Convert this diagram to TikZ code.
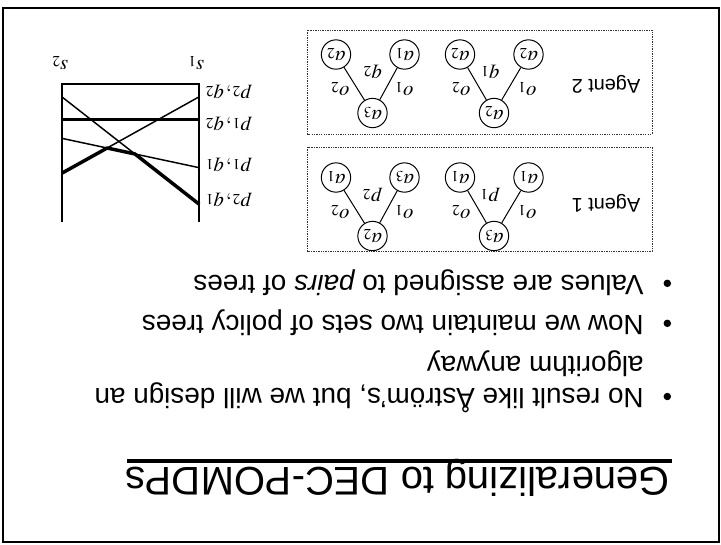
\documentclass[tikz,border=0pt]{standalone}
\usepackage{mathptmx}
\usepackage{fontspec}
\setmainfont{Liberation Sans}
\begin{document}
\begin{tikzpicture}[x=0.75pt,y=-0.75pt,
  txt/.style={rotate=180,inner sep=0pt},
  title/.style={txt,font=\fontsize{30}{36}\selectfont},
  body/.style={txt,font=\fontsize{20.9}{25}\selectfont},
  agent/.style={txt,font=\fontsize{14.9}{18}\selectfont},
  mlbl/.style={txt,font=\fontsize{15.5}{18}\selectfont},
  act/.style={circle,draw,line width=0.75pt,minimum size=22pt,inner sep=0pt,
              rotate=180,font=\fontsize{15.5}{18}\selectfont},
  dot/.style={circle,fill,inner sep=0pt,minimum size=5.6pt},
  panel/.style={draw=black!80,line width=0.7pt,dash pattern=on 1pt off 0.8pt},
  edge/.style={line width=0.75pt},
  axis/.style={line width=1.4pt},
  vline/.style={line width=1.1pt},
  envelope/.style={line width=2.6pt,line join=round}]
\useasboundingbox (0,0) rectangle (721,544);

% slide frame
\draw[line width=1.5pt] (2.5,8) rectangle (718.5,542);

% title and rule
\node[title,anchor=base west] (ttl) at (670,467) {Generalizing to DEC-POMDPs};
\coordinate (ruleA) at (671.7,461);
\coordinate (ruleB) at (126.7,461);
\draw[line width=2.3pt] (ruleA) -- (ruleB);

% bullet list
\node[dot] (d1) at (667.3,396.5) {};
\node[body,anchor=base west] (b1) at (644,388.3) {No result like Åström’s, but we will design an};
\node[body,anchor=base west] (b1c) at (644,356) {algorithm anyway};
\node[dot] (d2) at (667.3,323.3) {};
\node[body,anchor=base west] (b2) at (644,315) {Now we maintain two sets of policy trees};
\node[dot] (d3) at (667.3,283.3) {};
\node[body,anchor=base west] (b3) at (644,275) {Values are assigned to \textit{pairs} of trees};

% panels of policy trees
\coordinate (pA1) at (307.5,30);  \coordinate (pA2) at (652,134);
\coordinate (pB1) at (307.5,147); \coordinate (pB2) at (652,251.5);
\draw[panel] (pA1) rectangle (pA2);
\draw[panel] (pB1) rectangle (pB2);
\node[agent] (ag2) at (606,84) {Agent 2};
\node[agent] (ag1) at (606,203) {Agent 1};

% Agent 2, first tree
\node[act] (t1r) at (372.5,113) {$a_3$};
\node[act] (t1a) at (336,54.5) {$a_2$};
\node[act] (t1b) at (404.5,54.5) {$a_1$};
\draw[edge] (t1r) -- (t1a);
\draw[edge] (t1r) -- (t1b);
\node[mlbl] (t1q) at (372.5,72) {$q_2$};
\node[mlbl] (t1o2) at (340,89) {$o_2$};
\node[mlbl] (t1o1) at (404,89) {$o_1$};

% Agent 2, second tree
\node[act] (t2r) at (494,113) {$a_2$};
\node[act] (t2a) at (460,54.5) {$a_2$};
\node[act] (t2b) at (528.5,54.5) {$a_2$};
\draw[edge] (t2r) -- (t2a);
\draw[edge] (t2r) -- (t2b);
\node[mlbl] (t2q) at (490,72) {$q_1$};
\node[mlbl] (t2o2) at (461,89) {$o_2$};
\node[mlbl] (t2o1) at (527,89) {$o_1$};

% Agent 1, first tree
\node[act] (t3r) at (372.5,236) {$a_2$};
\node[act] (t3a) at (336,177.5) {$a_1$};
\node[act] (t3b) at (404.5,177.5) {$a_3$};
\draw[edge] (t3r) -- (t3a);
\draw[edge] (t3r) -- (t3b);
\node[mlbl] (t3p) at (372.5,195) {$p_2$};
\node[mlbl] (t3o2) at (340,212) {$o_2$};
\node[mlbl] (t3o1) at (404,212) {$o_1$};

% Agent 1, second tree
\node[act] (t4r) at (494,236) {$a_3$};
\node[act] (t4a) at (460,177.5) {$a_1$};
\node[act] (t4b) at (528.5,177.5) {$a_1$};
\draw[edge] (t4r) -- (t4a);
\draw[edge] (t4r) -- (t4b);
\node[mlbl] (t4p) at (490,195) {$p_1$};
\node[mlbl] (t4o2) at (461,212) {$o_2$};
\node[mlbl] (t4o1) at (527,212) {$o_1$};

% value functions over the belief interval
\coordinate (tl) at (61.7,84);   \coordinate (tr) at (199.3,84);
\coordinate (bl) at (61.7,221.7); \coordinate (br) at (199.3,221.7);
\draw[axis] (bl) -- (tl) -- (tr) -- (br);
\node[mlbl] (s1) at (196,63) {$s_1$};
\node[mlbl] (s2) at (60,63) {$s_2$};

\coordinate (A0) at (61.7,96.7);  \coordinate (A1) at (199.3,204.3);
\coordinate (B0) at (61.7,119.3); \coordinate (B1) at (199.3,119.3);
\coordinate (C0) at (61.7,138.3); \coordinate (C1) at (199.3,167.7);
\coordinate (D0) at (61.7,173.3); \coordinate (D1) at (199.3,96.7);
\draw[vline] (A0) -- (A1);
\draw[line width=1.8pt] (B0) -- (B1);
\draw[vline] (C0) -- (C1);
\draw[vline] (D0) -- (D1);
\coordinate (DC) at (intersection of D0--D1 and C0--C1);
\coordinate (CA) at (intersection of C0--C1 and A0--A1);
\draw[envelope] (D0) -- (DC) -- (CA) -- (A1);

\node[mlbl,anchor=east] (l22) at (205,92) {$p_2,q_2$};
\node[mlbl,anchor=east] (l12) at (205,124) {$p_1,q_2$};
\node[mlbl,anchor=east] (l11) at (205,165) {$p_1,q_1$};
\node[mlbl,anchor=east] (l21) at (205,200) {$p_2,q_1$};
\end{tikzpicture}
\end{document}
